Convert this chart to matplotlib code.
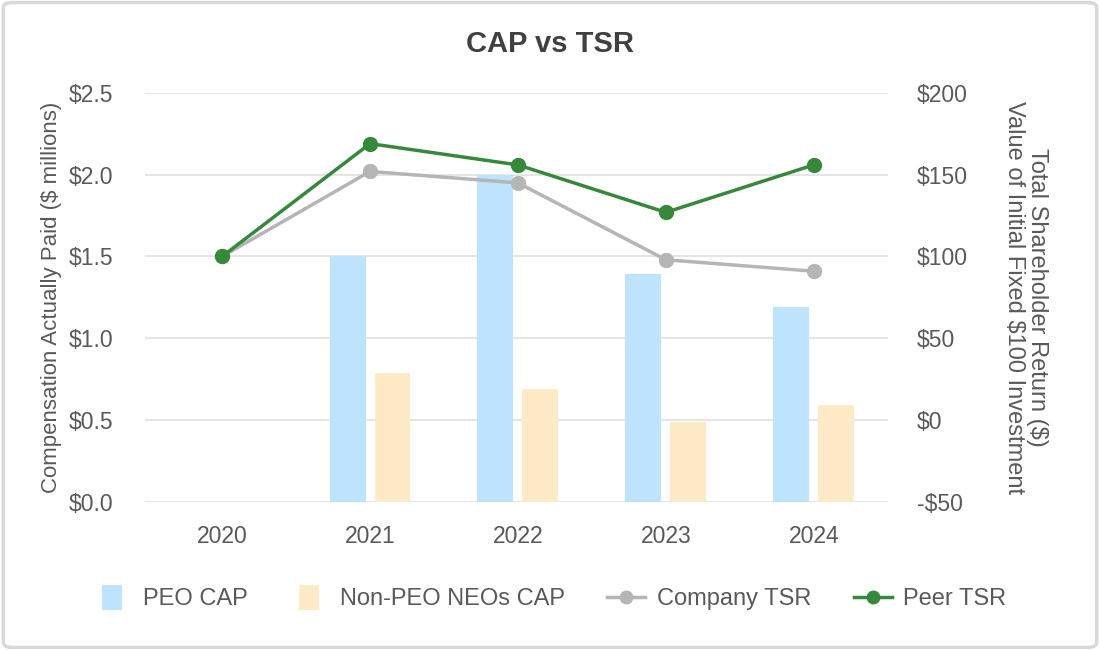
import numpy as np
import matplotlib
matplotlib.use("Agg")
import matplotlib.pyplot as plt
from matplotlib.patches import FancyBboxPatch, Rectangle, Patch
from matplotlib.lines import Line2D
from matplotlib.legend_handler import HandlerBase

plt.rcParams['font.family'] = ['Liberation Sans', 'DejaVu Sans']

years = ["2020", "2021", "2022", "2023", "2024"]
peo_cap = [np.nan, 1.50, 2.00, 1.39, 1.19]
non_peo_cap = [np.nan, 0.79, 0.69, 0.49, 0.59]
company_tsr = [100, 152, 145, 98, 91]
peer_tsr = [100, 169, 156, 127, 156]

left_ticks = [0.0, 0.5, 1.0, 1.5, 2.0, 2.5]
right_ticks = [-50, 0, 50, 100, 150, 200]

c_peo = "#BEE3FD"
c_non = "#FEEAC6"
c_comp = "#B5B5B5"
c_peer = "#36883A"
txt = "#595959"


class TallRectHandler(HandlerBase):
    def create_artists(self, legend, orig_handle, xdescent, ydescent, width, height,
                       fontsize, trans):
        rw, rh = 14.4, 18.0
        r = Rectangle((-xdescent + (width - rw) / 2, -ydescent + (height - rh) / 2), rw, rh,
                      facecolor=orig_handle.get_facecolor(), edgecolor="none", transform=trans)
        return [r]


fig = plt.figure(figsize=(11, 6.5), dpi=100)
border = FancyBboxPatch((0.003, 0.004), 0.994, 0.992, boxstyle="round,pad=0,rounding_size=0.008",
                        transform=fig.transFigure, facecolor="white", edgecolor="#D9D9D9",
                        linewidth=2.5, zorder=-10)
fig.patches.append(border)

ax = fig.add_axes([0.132, 0.228, 0.675, 0.629])
ax.set_facecolor("none")
x = np.arange(len(years))
w = 0.243
ax.bar(x - 0.152, peo_cap, width=w, color=c_peo, zorder=2)
ax.bar(x + 0.152, non_peo_cap, width=w, color=c_non, zorder=2)
ax.set_ylim(0, 2.5)
ax.set_xlim(-0.52, 4.5)
ax.set_yticks(left_ticks)
ax.set_yticklabels([f"${v:.1f}" for v in left_ticks])
ax.set_xticks(x)
ax.set_xticklabels(years)
ax.grid(axis="y", color="#E3E3E3", linewidth=1.3, zorder=0)
ax.set_axisbelow(True)
for s in ax.spines.values():
    s.set_visible(False)
ax.tick_params(axis="both", length=0, labelsize=16.5, labelcolor=txt)
ax.tick_params(axis="y", pad=23)
ax.tick_params(axis="x", pad=17)
ax.set_ylabel("Compensation Actually Paid ($ millions)", fontsize=16, color=txt, labelpad=5)

ax2 = ax.twinx()
ax2.plot(x, company_tsr, color=c_comp, marker="o", markersize=10, linewidth=2.5, zorder=3)
ax2.plot(x, peer_tsr, color=c_peer, marker="o", markersize=10, linewidth=2.5, zorder=4)
ax2.set_ylim(-50, 200)
ax2.set_yticks(right_ticks)
ax2.set_yticklabels([f"${v}" if v >= 0 else f"-${-v}" for v in right_ticks])
for s in ax2.spines.values():
    s.set_visible(False)
ax2.tick_params(axis="y", length=0, labelsize=16.5, labelcolor=txt, pad=21)
ax2.set_ylabel("Total Shareholder Return ($)\nValue of Initial Fixed $100 Investment",
               rotation=270, fontsize=17, color=txt, labelpad=58, linespacing=1.1)

fig.text(0.5, 0.932, "CAP vs TSR", ha="center", va="center", fontsize=21,
         fontweight="bold", color="#404040")

h_peo = Patch(facecolor=c_peo)
h_non = Patch(facecolor=c_non)
h_comp = Line2D([], [], color=c_comp, marker="o", markersize=9, linewidth=2.5)
h_peer = Line2D([], [], color=c_peer, marker="o", markersize=9, linewidth=2.5)
fig.legend([h_peo, h_non, h_comp, h_peer],
           ["PEO CAP", "Non-PEO NEOs CAP", "Company TSR", "Peer TSR"],
           handler_map={h_peo: TallRectHandler(), h_non: TallRectHandler()},
           loc="center", bbox_to_anchor=(0.5, 0.078), ncol=4,
           frameon=False, fontsize=17, labelcolor=txt, handlelength=1.6,
           columnspacing=1.8, handletextpad=0.5)

fig.savefig("out.png", dpi=100)
